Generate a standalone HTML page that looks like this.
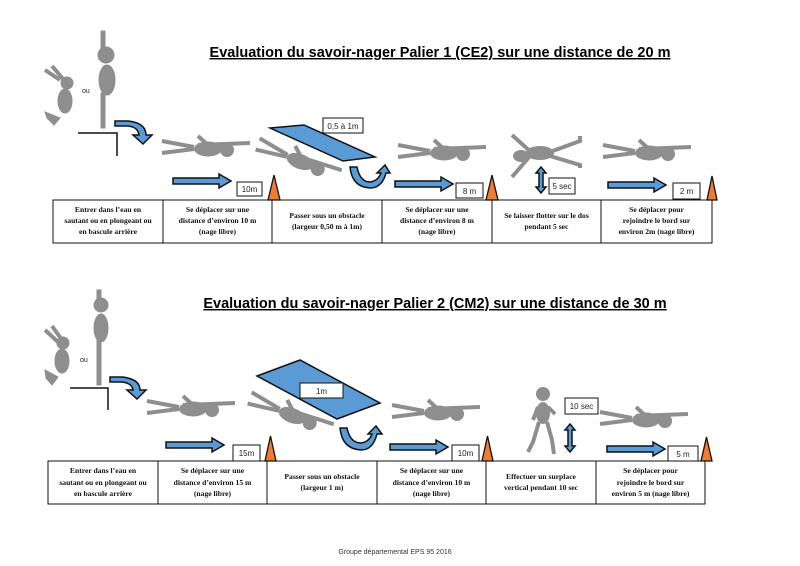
<!DOCTYPE html>
<html><head><meta charset="utf-8"><style>
body{margin:0;background:#fff;width:800px;height:566px;overflow:hidden}
svg{display:block}
.t{font-family:"Liberation Serif",serif;font-weight:bold;font-size:7.6px;text-anchor:middle;fill:#111}
.h{font-family:"Liberation Sans",sans-serif;font-weight:bold;font-size:14.5px;text-anchor:middle;text-decoration:underline;fill:#000}
.b{font-family:"Liberation Sans",sans-serif;font-size:8px;text-anchor:middle;fill:#222}
.ar{fill:#5b9bd5;stroke:#111;stroke-width:1.5}
.cone{fill:#ed7d31;stroke:#111;stroke-width:1.3}
.box{fill:#fff;stroke:#111;stroke-width:1}
.g{fill:#8e8e8e;stroke:#8e8e8e}
</style></head><body>
<svg width="800" height="566" viewBox="0 0 800 566">
<defs>
<g id="sw">
 <g stroke="#8e8e8e" stroke-width="4" fill="none" stroke-linecap="butt">
  <path d="M0,-5 L32,1"/><path d="M0,7 L32,3"/>
  <path d="M36,-1 L88,-3"/><path d="M48,1 L36,-10"/>
 </g>
 <ellipse cx="46" cy="3" rx="14" ry="7.5" fill="#8e8e8e"/>
 <circle cx="65" cy="4" r="7" fill="#8e8e8e"/>
</g>
<g id="ar"><path class="ar" d="M0,-3 L46,-3 L46,-7 L58,0 L46,7 L46,3 L0,3 Z"/></g>
</defs>

<!-- Section 1 -->
<text class="h" x="440" y="57">Evaluation du savoir-nager Palier 1 (CE2) sur une distance de 20 m</text>

<!-- dive start -->
<g fill="#8e8e8e" stroke="#8e8e8e">
 <rect x="101" y="31" width="4" height="30"/>
 <circle cx="106" cy="55" r="8"/>
 <ellipse cx="107" cy="80" rx="8" ry="15"/>
 <rect x="101" y="93" width="4" height="35"/>
 <circle cx="67" cy="83" r="6"/>
 <ellipse cx="65" cy="101" rx="7" ry="12"/>
 <path d="M45,70 L60,80 M52,66 L64,80" stroke-width="4"/>
 <path d="M45,112 L60,118 L54,125 L47,118Z"/>
</g>
<text x="82" y="93" font-family="Liberation Sans,sans-serif" font-size="7" fill="#222">ou</text>
<path d="M78,133 L117,133 L117,156" fill="none" stroke="#111" stroke-width="1.5"/>
<path class="ar" d="M115,121 L128,121 Q146,123 146,135 L152,135 L143,144 L133,135 L139,135 Q138,127 128,126 L115,126Z"/>

<use href="#sw" x="162" y="146"/>
<use href="#sw" transform="translate(258,143) rotate(20)"/>
<use href="#sw" x="398" y="150"/>
<use href="#sw" x="603" y="150"/>
<!-- floating back -->
<g fill="#8e8e8e" stroke="#8e8e8e" stroke-width="4" fill-opacity="1">
 <ellipse cx="540" cy="153" rx="14" ry="7" stroke="none"/>
 <ellipse cx="521" cy="156" rx="8" ry="6" stroke="none"/>
 <path d="M532,153 L512,135 M530,156 L512,177 M550,152 L580,141 L580,136 M550,156 L580,165 L580,168" fill="none"/>
</g>

<polygon points="270,128 304,125 375,157 343,161" class="ar" stroke-width="1.2"/>
<rect class="box" x="323" y="118" width="40" height="15"/><text class="b" x="343" y="129">0,5 à 1m</text>
<path class="ar" d="M350,167 L357,167 Q360,182 370,182 Q378,181 381,173 L377,173 L385,165 L390,173 L386,173 Q382,188 370,188 Q352,187 350,167Z"/>

<use href="#ar" x="173" y="181"/>
<rect class="box" x="237" y="182" width="25" height="14"/><text class="b" x="249.5" y="192">10m</text>
<polygon class="cone" points="268,200 274,175 280,200"/>
<use href="#ar" x="395" y="184"/>
<rect class="box" x="456" y="183" width="27" height="15"/><text class="b" x="469.5" y="194">8 m</text>
<polygon class="cone" points="486,200 492,175 498,200"/>
<path class="ar" d="M541,167 L546,173 L543,173 L543,187 L546,187 L541,193 L536,187 L539,187 L539,173 L536,173Z" stroke-width="1"/>
<rect class="box" x="549" y="178" width="26" height="16"/><text class="b" x="562" y="189">5 sec</text>
<use href="#ar" x="608" y="185"/>
<rect class="box" x="673" y="183" width="27" height="16"/><text class="b" x="686.5" y="194">2 m</text>
<polygon class="cone" points="707,200 712,176 717,200"/>

<g fill="none" stroke="#111" stroke-width="1">
 <rect x="53" y="200" width="659" height="43"/>
 <path d="M163,200V243M272,200V243M382,200V243M492,200V243M601,200V243"/>
</g>
<text class="t"><tspan x="108" y="212">Entrer dans l’eau en</tspan><tspan x="108" y="223">sautant ou en plongeant ou</tspan><tspan x="108" y="234">en bascule arrière</tspan></text>
<text class="t"><tspan x="217.5" y="212">Se déplacer sur une</tspan><tspan x="217.5" y="223">distance d’environ 10 m</tspan><tspan x="217.5" y="234">(nage libre)</tspan></text>
<text class="t"><tspan x="327" y="218">Passer sous un obstacle</tspan><tspan x="327" y="229">(largeur 0,50 m à 1m)</tspan></text>
<text class="t"><tspan x="437" y="212">Se déplacer sur une</tspan><tspan x="437" y="223">distance d’environ 8 m</tspan><tspan x="437" y="234">(nage libre)</tspan></text>
<text class="t"><tspan x="546.5" y="218">Se laisser flotter sur le dos</tspan><tspan x="546.5" y="229">pendant 5 sec</tspan></text>
<text class="t"><tspan x="656.5" y="212">Se déplacer pour</tspan><tspan x="656.5" y="223">rejoindre le bord sur</tspan><tspan x="656.5" y="234">environ 2m (nage libre)</tspan></text>

<!-- Section 2 -->
<text class="h" x="435" y="308">Evaluation du savoir-nager Palier 2 (CM2) sur une distance de 30 m</text>
<g fill="#8e8e8e" stroke="#8e8e8e">
 <rect x="97" y="290" width="4" height="12"/>
 <circle cx="101" cy="305" r="7"/>
 <ellipse cx="101" cy="328" rx="7" ry="14"/>
 <rect x="97" y="340" width="4" height="45"/>
 <circle cx="63" cy="343" r="6"/>
 <ellipse cx="62" cy="361" rx="7" ry="12"/>
 <path d="M45,330 L58,342 M52,326 L62,340" stroke-width="4"/>
 <path d="M45,370 L58,377 L52,385 L46,378Z"/>
</g>
<text x="80" y="362" font-family="Liberation Sans,sans-serif" font-size="7" fill="#222">ou</text>
<path d="M70,388 L108,388 L108,410" fill="none" stroke="#111" stroke-width="1.5"/>
<path class="ar" d="M110,377 L122,377 Q140,379 140,390 L146,390 L137,399 L127,390 L133,390 Q132,383 122,382 L110,382Z"/>

<use href="#sw" x="147" y="406"/>
<use href="#sw" transform="translate(250,397) rotate(20)"/>
<use href="#sw" x="392" y="410"/>
<use href="#sw" x="600" y="417"/>
<!-- standing -->
<g fill="#8e8e8e" stroke="#8e8e8e" stroke-width="4">
 <circle cx="543" cy="394" r="7" stroke="none"/>
 <ellipse cx="543" cy="413" rx="7" ry="11" stroke="none"/>
 <path d="M538,407 L533,420 M548,407 L555,414 M539,422 L533,442 L528,452 M547,422 L552,440 L554,454" fill="none"/>
</g>

<polygon points="257,376 300,360 380,403 337,419" class="ar" stroke-width="1.2"/>
<rect class="box" x="300" y="383" width="43" height="15"/><text class="b" x="321.5" y="394">1m</text>
<path class="ar" d="M340,428 L347,428 Q350,443 361,443 Q369,442 372,434 L368,434 L376,426 L382,434 L377,434 Q373,450 361,450 Q342,449 340,428Z"/>

<use href="#ar" x="166" y="445"/>
<rect class="box" x="233" y="445" width="27" height="16"/><text class="b" x="246.5" y="456">15m</text>
<polygon class="cone" points="265,461 270.5,436 276,461"/>
<use href="#ar" x="390" y="447"/>
<rect class="box" x="452" y="445" width="27" height="16"/><text class="b" x="465.5" y="456">10m</text>
<polygon class="cone" points="482,461 487.5,436 493,461"/>
<path class="ar" d="M570,424 L575,430 L572,430 L572,446 L575,446 L570,452 L565,446 L568,446 L568,430 L565,430Z" stroke-width="1"/>
<rect class="box" x="565" y="398" width="33" height="16"/><text class="b" x="581.5" y="409">10 sec</text>
<use href="#ar" x="607" y="449"/>
<rect class="box" x="668" y="446" width="30" height="15"/><text class="b" x="683" y="457">5 m</text>
<polygon class="cone" points="701,461 706.5,437 712,461"/>

<g fill="none" stroke="#111" stroke-width="1">
 <rect x="48" y="461" width="657" height="43"/>
 <path d="M158,461V504M267,461V504M377,461V504M486,461V504M596,461V504"/>
</g>
<text class="t"><tspan x="103" y="473">Entrer dans l’eau en</tspan><tspan x="103" y="485">sautant ou en plongeant ou</tspan><tspan x="103" y="496">en bascule arrière</tspan></text>
<text class="t"><tspan x="212.5" y="473">Se déplacer sur une</tspan><tspan x="212.5" y="485">distance d’environ 15 m</tspan><tspan x="212.5" y="496">(nage libre)</tspan></text>
<text class="t"><tspan x="322" y="479">Passer sous un obstacle</tspan><tspan x="322" y="490">(largeur 1 m)</tspan></text>
<text class="t"><tspan x="431.5" y="473">Se déplacer sur une</tspan><tspan x="431.5" y="485">distance d’environ 10 m</tspan><tspan x="431.5" y="496">(nage libre)</tspan></text>
<text class="t"><tspan x="541" y="479">Effectuer un surplace</tspan><tspan x="541" y="490">vertical pendant 10 sec</tspan></text>
<text class="t"><tspan x="650.5" y="473">Se déplacer pour</tspan><tspan x="650.5" y="485">rejoindre le bord sur</tspan><tspan x="650.5" y="496">environ 5 m (nage libre)</tspan></text>

<text x="395" y="554" font-family="Liberation Sans,sans-serif" font-size="7" text-anchor="middle" fill="#333">Groupe départemental EPS 95  2016</text>
</svg>
</body></html>
